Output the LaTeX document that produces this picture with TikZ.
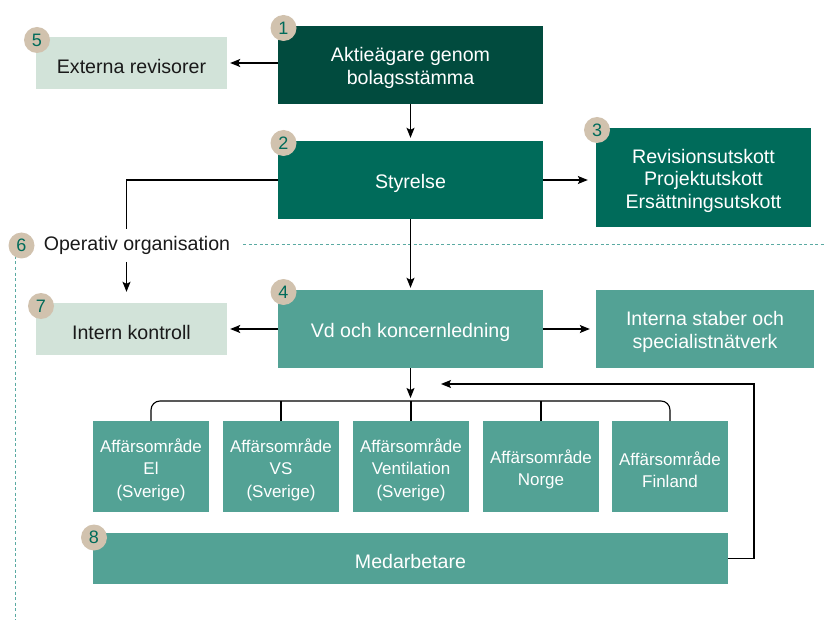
\documentclass[tikz,border=0pt]{standalone}
\usepackage{fontspec}
\setmainfont{Liberation Sans}
\usetikzlibrary{arrows.meta}
\definecolor{cdark}{HTML}{014B3E}
\definecolor{cmid}{HTML}{006B5A}
\definecolor{clight}{HTML}{53A295}
\definecolor{cpale}{HTML}{D2E3D9}
\definecolor{cbadge}{HTML}{D1C2AE}
\definecolor{cnum}{HTML}{006B5A}
\definecolor{cdash}{HTML}{5AAAA2}
\definecolor{ctext}{HTML}{1A1A1A}
\begin{document}
\begin{tikzpicture}[x=1pt,y=-1pt,
  lbl/.style={inner sep=0pt, align=center, yshift=-3pt, font=\fontsize{19.6}{22.5}\selectfont},
  box/.style={rectangle, inner sep=0pt},
  darkbox/.style={box, fill=cdark, label={[lbl, text=white]center:{#1}}},
  midbox/.style={box, fill=cmid, label={[lbl, text=white]center:{#1}}},
  lightbox/.style={box, fill=clight, label={[lbl, text=white]center:{#1}}},
  palebox/.style={box, fill=cpale, label={[lbl, text=ctext]center:{#1}}},
  aobox/.style={box, fill=clight, minimum width=116pt, minimum height=91pt,
    label={[lbl, text=white, font=\fontsize{17}{22.5}\selectfont]center:{#1}}},
  badge/.style={circle, fill=cbadge, minimum size=26pt, inner sep=0pt, text=cnum, font=\fontsize{18}{18}\selectfont},
  arr/.style={draw=black, line width=1.1pt, -{Stealth[length=10pt,width=8pt,inset=2pt]}},
  ln/.style={draw=black, line width=1.1pt},
  dsh/.style={draw=cdash, line width=1pt, dash pattern=on 3pt off 2.5pt}]
\useasboundingbox (0,0) rectangle (824,620);

% boxes
\node[darkbox={Aktieägare genom\\bolagsstämma}, minimum width=265pt, minimum height=78pt] (n1) at (410.5,65) {};
\node[palebox={Externa revisorer}, minimum width=191pt, minimum height=52pt] (n5) at (131.5,63) {};
\node[midbox={Styrelse}, minimum width=265pt, minimum height=78pt] (n2) at (410.5,180) {};
\node[midbox={Revisionsutskott\\Projektutskott\\Ersättningsutskott}, minimum width=215pt, minimum height=99pt] (n3) at (703.5,177.5) {};
\node[lightbox={Vd och koncernledning}, minimum width=265pt, minimum height=78pt] (n4) at (410.5,329) {};
\node[palebox={Intern kontroll}, minimum width=191pt, minimum height=52pt] (n7) at (131.5,329) {};
\node[lightbox={Interna staber och\\specialistnätverk}, minimum width=218pt, minimum height=78pt] (n9) at (705,329) {};

\node[aobox={Affärsområde\\El\\(Sverige)}] (a1) at (151,466.5) {};
\node[aobox={Affärsområde\\VS\\(Sverige)}] (a2) at (281,466.5) {};
\node[aobox={Affärsområde\\Ventilation\\(Sverige)}] (a3) at (411,466.5) {};
\node[aobox={Affärsområde\\Norge}] (a4) at (541,466.5) {};
\node[aobox={Affärsområde\\Finland}] (a5) at (670,466.5) {};

\node[lightbox={Medarbetare}, minimum width=635pt, minimum height=51pt] (n8) at (410.5,558.5) {};

% operative organisation label and dashed frame
\node[font=\fontsize{19.6}{23}\selectfont, text=ctext, inner sep=0pt] (op) at (137,245) {Operativ organisation};
\coordinate (dh1) at (243,245);
\coordinate (dh2) at (824,245);
\coordinate (dv1) at (15.5,256);
\coordinate (dv2) at (15.5,620);
\draw[dsh] (dh1) -- (dh2);
\draw[dsh] (dv1) -- (dv2);

% connectors
\draw[arr, shorten >=3pt] (n1.west |- n5.east) -- (n5.east);
\draw[arr, shorten >=3pt] (n1.south) -- (n2.north);
\draw[arr, shorten >=8pt] (n2.east) -- (n3.west |- n2.east);
\coordinate (k1) at (126.5,180);
\coordinate (k2) at (126.5,229);
\coordinate (k3) at (126.5,262);
\draw[ln] (n2.west) -- (k1) -- (k2);
\draw[arr, shorten >=11pt] (k3) -- (k3 |- n7.north);
\draw[arr, shorten >=2pt] (n2.south) -- (n4.north);
\draw[arr, shorten >=3pt] (n4.west) -- (n7.east);
\draw[arr, shorten >=6pt] (n4.east) -- (n9.west);

% bracket
\coordinate (br) at (410.5,401);
\draw[arr, shorten >=3pt] (n4.south) -- (br);
\draw[ln, rounded corners=9pt] (a1.north) -- (a1.north |- br) -- (a5.north |- br) -- (a5.north);
\draw[ln] (a2.north) -- (a2.north |- br);
\draw[ln] (a3.north) -- (a3.north |- br);
\draw[ln] (a4.north) -- (a4.north |- br);

% feedback
\coordinate (f1) at (754,558.5);
\coordinate (f2) at (754,384);
\coordinate (f3) at (441,384);
\draw[arr] (n8.east) -- (f1) -- (f2) -- (f3);

% badges
\node[badge] (b1) at (283.5,28) {1};
\node[badge] (b2) at (283.5,143) {2};
\node[badge] (b3) at (597,130) {3};
\node[badge] (b4) at (283.5,292) {4};
\node[badge] (b5) at (37,40) {5};
\node[badge] (b6) at (21.5,245.5) {6};
\node[badge] (b7) at (41,306) {7};
\node[badge] (b8) at (94,537.5) {8};
\end{tikzpicture}
\end{document}
